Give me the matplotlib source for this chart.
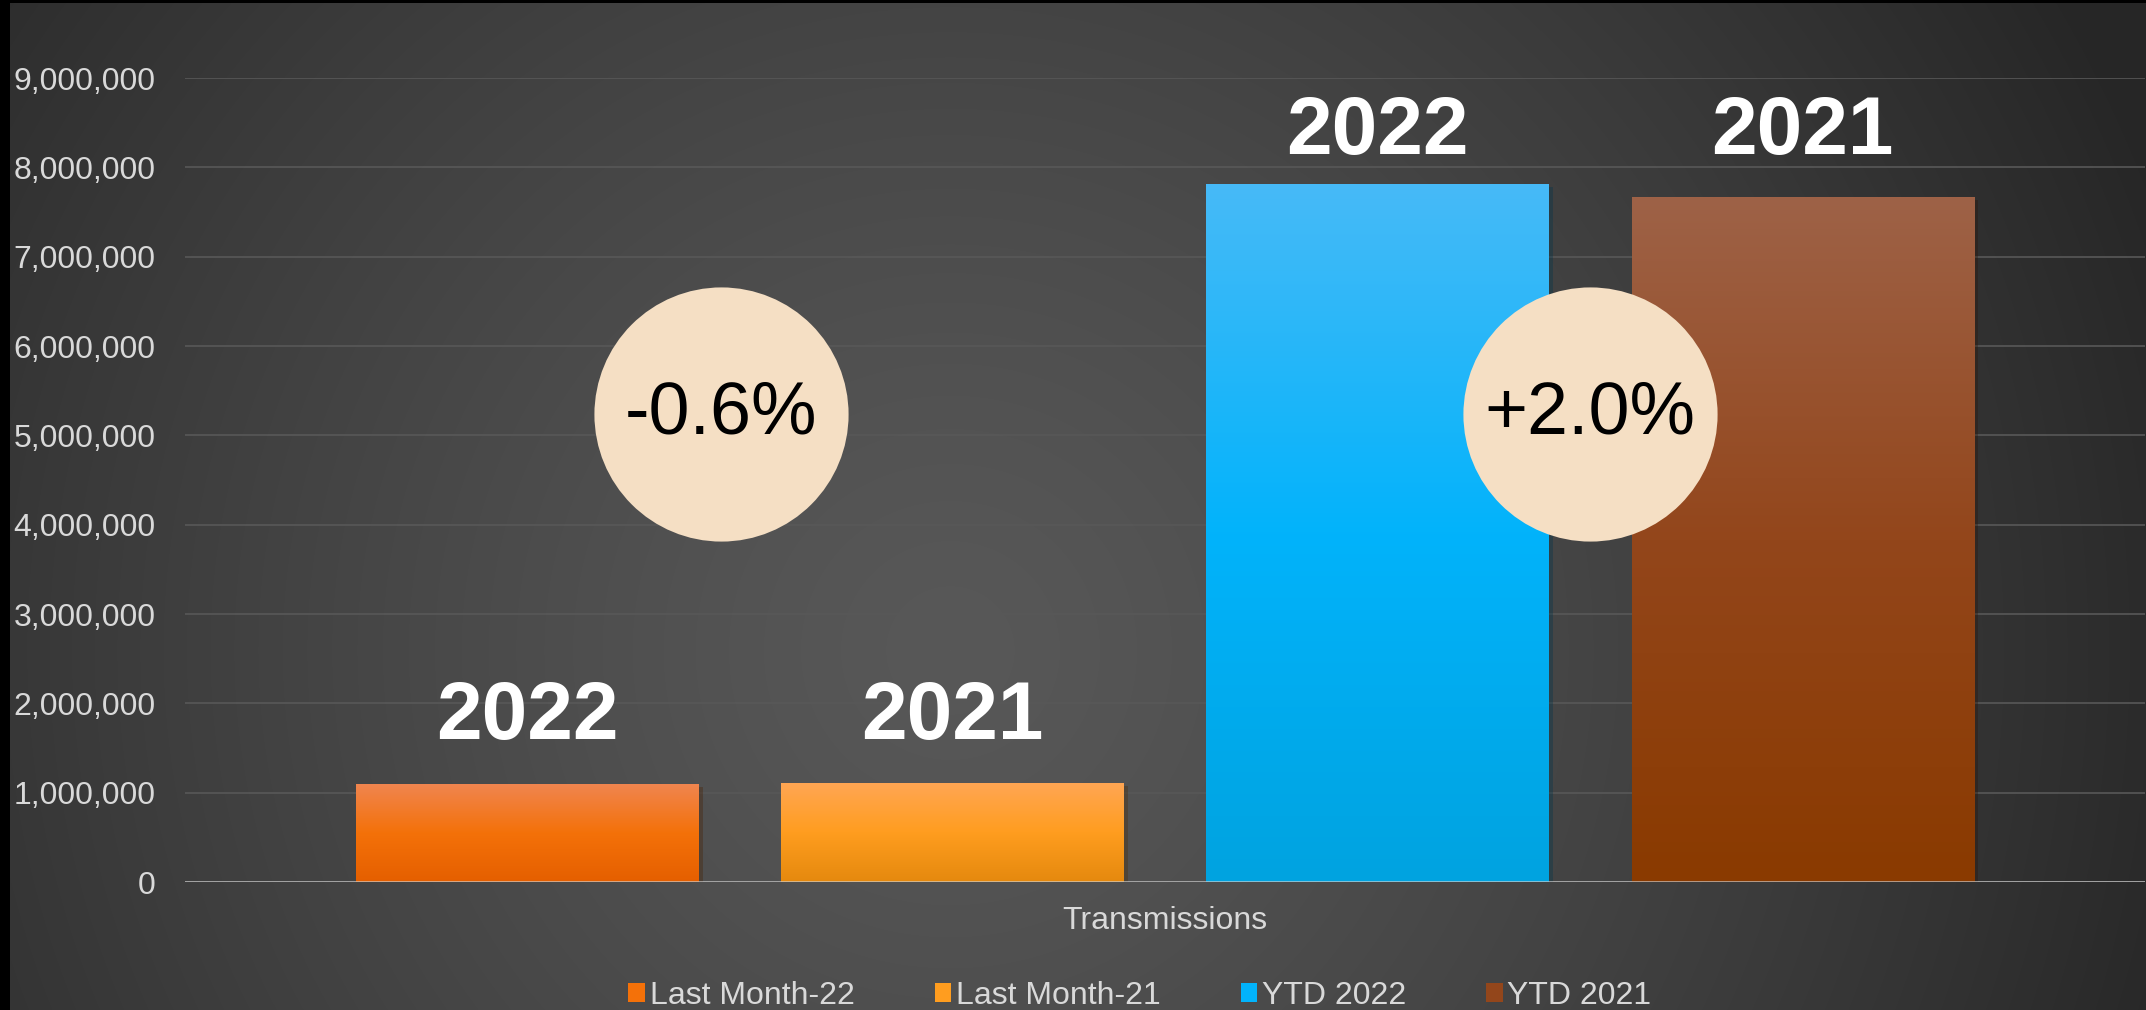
import numpy as np
import matplotlib.pyplot as plt
from matplotlib.colors import LinearSegmentedColormap
from matplotlib.patches import Patch
from matplotlib import patheffects as pe
from matplotlib.ticker import FuncFormatter

plt.rcParams['font.family'] = ['Liberation Sans', 'DejaVu Sans']

# -----------------------------
# data
# -----------------------------
category = "Transmissions"
series = ["Last Month-22", "Last Month-21", "YTD 2022", "YTD 2021"]
values = [1097000, 1103600, 7816000, 7663000]
year_labels = ["2022", "2021", "2022", "2021"]
label_heights = [1600000, 1600000, 8150000, 8150000]
changes = ["-0.6%", "+2.0%"]
change_x = [0.456, 2.50]
change_y = [5240000, 5240000]
y_ticks = np.arange(0, 9000001, 1000000)

# gradient stops: bottom, middle, top
bar_colors = [
    ["#e55f00", "#f47109", "#f0854f"],
    ["#e5890e", "#ff9d1f", "#ffa653"],
    ["#00a3e0", "#02b3fb", "#47baf7"],
    ["#8a3a00", "#93461b", "#9e6247"],
]

W, H = 2146, 1010
fig = plt.figure(figsize=(W / 100, H / 100), dpi=100, facecolor='black')

# -----------------------------
# dark radial background
# -----------------------------
bg = fig.add_axes([10 / W, 0, 1 - 10 / W, 1 - 3 / H])
bg.axis('off')
yy, xx = np.mgrid[3:H, 10:W]
d = np.sqrt((xx - 950.0) ** 2 + (yy - 650.0) ** 2)
v = np.clip(88 - 45 * (d / 1200.0) ** 1.3, 38, 90) / 255.0
bg.imshow(np.dstack([v, v, v]), aspect='auto', interpolation='bilinear')

# -----------------------------
# bars
# -----------------------------
ax = fig.add_axes([185 / W, 128 / H, 1960 / W, 804 / H])
ax.set_facecolor('none')

x = np.arange(len(values))
width = 0.805
bars = ax.bar(x, values, width=width, color=[c[1] for c in bar_colors], zorder=2,
              linewidth=0)

grad = np.linspace(0, 1, 256).reshape(-1, 1)
for bar, cols in zip(bars, bar_colors):
    bar.set_path_effects([pe.SimplePatchShadow(offset=(3, -2), alpha=0.35),
                          pe.Normal()])
    cmap = LinearSegmentedColormap.from_list("g", cols)
    x0 = bar.get_x()
    im = ax.imshow(grad, origin='lower', cmap=cmap, aspect='auto', zorder=2.1,
                   extent=[x0, x0 + bar.get_width(), 0, bar.get_height()])
    im.set_clip_path(bar)

for xi, lab, hy in zip(x, year_labels, label_heights):
    ax.text(xi, hy, lab, ha='center', va='baseline', fontsize=59,
            fontweight='bold', color='white', zorder=5)

# change circles
ax.scatter(change_x, change_y, s=183 ** 2, color='#f5dfc4', linewidths=0,
           zorder=4, clip_on=False)
for cx, cy, txt in zip(change_x, change_y, changes):
    ax.text(cx, cy, txt, ha='center', va='center', fontsize=53, color='black',
            zorder=5)

# -----------------------------
# axes styling
# -----------------------------
ax.set_xlim(-width, len(values) - 1 + width)
ax.set_ylim(0, 9000000)
ax.set_yticks(y_ticks)
ax.yaxis.set_major_formatter(FuncFormatter(lambda v, p: f"{v:,.0f}"))
ax.set_xticks([(len(values) - 1) / 2])
ax.set_xticklabels([category])
ax.tick_params(axis='y', length=0, pad=21, labelsize=23, labelcolor='#d9d9d9')
ax.tick_params(axis='x', length=0, pad=17, labelsize=23, labelcolor='#d9d9d9')
ax.yaxis.grid(True, color='#585858', linewidth=1.2, zorder=0)
ax.set_axisbelow(True)
for s in ax.spines.values():
    s.set_visible(False)
ax.axhline(0, color='#d0d0d0', alpha=0.7, linewidth=2, zorder=3)

handles = [Patch(facecolor=c[1]) for c in bar_colors]
fig.legend(handles, series, loc='center', bbox_to_anchor=(1140 / W, 14 / H),
           ncol=4, frameon=False, fontsize=23, labelcolor='#d9d9d9',
           handlelength=0.52, handleheight=0.52, handletextpad=0.15,
           columnspacing=2.5)

fig.savefig("out.png", dpi=100, facecolor=fig.get_facecolor())
